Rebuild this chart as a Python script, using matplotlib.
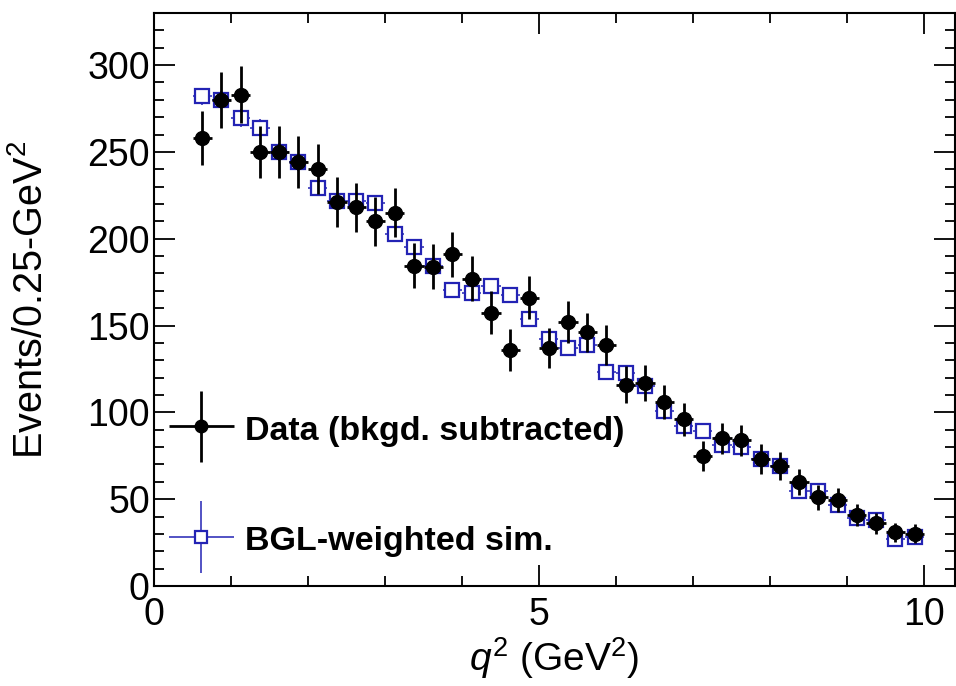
import matplotlib

matplotlib.use("Agg")
import matplotlib.pyplot as plt
from matplotlib.container import ErrorbarContainer
from matplotlib.legend_handler import HandlerErrorbar
from matplotlib.ticker import MultipleLocator

plt.rcParams["font.family"] = ["Liberation Sans", "DejaVu Sans"]
plt.rcParams["mathtext.fontset"] = "custom"
plt.rcParams["mathtext.rm"] = "Liberation Sans"
plt.rcParams["mathtext.it"] = "Liberation Sans:italic"

# q^2 bin centres (0.25 GeV^2 bins from 0.5 to 10)
q2 = [0.625, 0.875, 1.125, 1.375, 1.625, 1.875, 2.125, 2.375, 2.625, 2.875,
      3.125, 3.375, 3.625, 3.875, 4.125, 4.375, 4.625, 4.875, 5.125, 5.375,
      5.625, 5.875, 6.125, 6.375, 6.625, 6.875, 7.125, 7.375, 7.625, 7.875,
      8.125, 8.375, 8.625, 8.875, 9.125, 9.375, 9.625, 9.875]
bin_half = [0.125] * len(q2)

data = [258, 280, 283, 250, 250, 244, 240, 221, 218, 210,
        215, 184.5, 184, 191, 177, 157.5, 136, 166, 137, 152,
        146, 139, 116, 117, 106, 96, 75, 85, 84, 73,
        69, 60, 51, 49.5, 41, 36, 31, 30]
data_err = [15.5, 16, 16.5, 15, 15, 15, 14.5, 14.5, 14, 14,
            14, 13, 13, 13, 13, 12.5, 12, 12.5, 11.5, 12,
            11.5, 11.5, 10.5, 10.5, 10, 9.5, 8.5, 9, 9, 8.5,
            8, 7.5, 7, 7, 6.5, 6, 5.5, 5.5]

sim = [282, 280, 269.5, 264, 250, 244, 229, 222, 221.5, 220.5,
       203, 195.5, 184.5, 170.5, 169, 173, 167.5, 154, 142, 137,
       139, 123.5, 122.5, 115, 100.5, 92, 89, 81, 80, 73,
       69, 55, 55, 46.5, 39, 38, 27, 28]
sim_err = [5, 5, 5, 5, 5, 5, 4.5, 4.5, 4.5, 4.5,
           4.5, 4.5, 4, 4, 4, 4, 4, 4, 4, 4,
           4, 3.5, 3.5, 3.5, 3.5, 3.5, 3.5, 3.5, 3.5, 3,
           3, 3, 3, 3, 3, 3, 3, 3]

BLUE = "#2323b4"

fig = plt.figure(figsize=(9.56, 6.86), dpi=100)
ax = fig.add_axes([154 / 956, 1 - 586 / 686, 801 / 956, 573 / 686])

h_sim = ax.errorbar(q2, sim, xerr=bin_half, yerr=sim_err, fmt="s", color=BLUE,
                    mfc="white", mec=BLUE, mew=1.6, ms=9.5, elinewidth=1.1, capsize=0,
                    label="BGL-weighted sim.", zorder=3)
h_data = ax.errorbar(q2, data, xerr=bin_half, yerr=data_err, fmt="o", color="black",
                     ms=10, elinewidth=2.0, capsize=0, label="Data (bkgd. subtracted)", zorder=4)

ax.set_xlim(0, 10.4)
ax.set_ylim(0, 330)
ax.xaxis.set_major_locator(MultipleLocator(5))
ax.xaxis.set_minor_locator(MultipleLocator(1))
ax.yaxis.set_major_locator(MultipleLocator(50))
ax.yaxis.set_minor_locator(MultipleLocator(10))
ax.tick_params(which="both", direction="in", top=True, right=True, width=1.3, labelsize=27)
ax.tick_params(which="major", length=15)
ax.tick_params(which="minor", length=7)
ax.tick_params(axis="y", pad=3)
ax.tick_params(axis="x", pad=8)
for sp in ax.spines.values():
    sp.set_linewidth(1.5)

ax.set_xlabel(r"$q^2$ (GeV$^2$)", fontsize=28)
ax.set_ylabel(r"Events/0.25-GeV$^2$", fontsize=28.5)
ax.xaxis.set_label_coords(0.5, -0.085)
ax.yaxis.set_label_coords(-0.13, 0.5)

ax.legend(handles=[h_data, h_sim], loc="center left", bbox_to_anchor=(0.0175, 0.176),
          frameon=False, borderpad=0, borderaxespad=0, handlelength=1.95, handleheight=1.0,
          handletextpad=0.3, labelspacing=2.25, markerscale=0.9,
          prop={"weight": "bold", "size": 24.5},
          handler_map={ErrorbarContainer: HandlerErrorbar(xerr_size=0.95, yerr_size=1.05)})

fig.savefig("out.png", dpi=100)
